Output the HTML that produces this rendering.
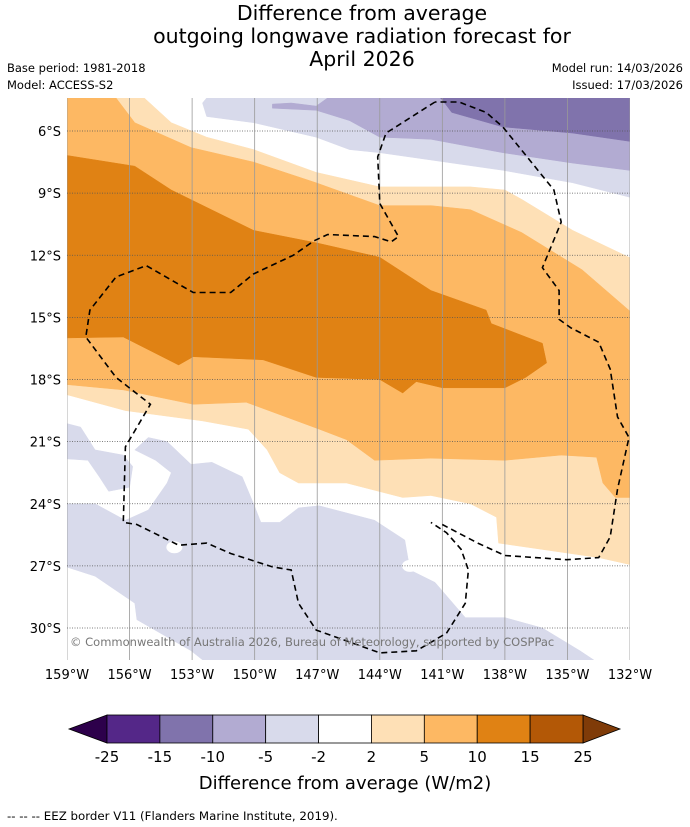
<!DOCTYPE html>
<html><head><meta charset="utf-8">
<style>
body{margin:0;background:#fff;width:690px;height:827px;overflow:hidden;font-family:"DejaVu Sans","Liberation Sans",sans-serif;}
svg{display:block}
</style></head>
<body>
<svg id="chart" width="690" height="827" viewBox="0 0 690 827">
  <g font-size="20.5" text-anchor="middle" fill="#000">
    <text x="362" y="20">Difference from average</text>
    <text x="362" y="43">outgoing longwave radiation forecast for</text>
    <text x="362" y="66">April 2026</text>
  </g>
  <text x="7" y="72" font-size="11.5">Base period: 1981-2018</text>
  <text x="7" y="89" font-size="11.5">Model: ACCESS-S2</text>
  <text x="683" y="72" font-size="11.5" text-anchor="end">Model run: 14/03/2026</text>
  <text x="683" y="89" font-size="11.5" text-anchor="end">Issued: 17/03/2026</text>
  <defs><clipPath id="mapclip"><rect x="67" y="98" width="563" height="562"/></clipPath></defs>
  <g id="map" clip-path="url(#mapclip)"></g>
  <g id="axes"></g>
  <text x="70" y="646" font-size="11.5" fill="#777">© Commonwealth of Australia 2026, Bureau of Meteorology, supported by COSPPac</text>
  <g id="cbar"></g>
  <text x="345" y="789" font-size="18" text-anchor="middle">Difference from average (W/m2)</text>
  <text x="7" y="820" font-size="11.8">--  --  -- EEZ border V11 (Flanders Marine Institute, 2019).</text>
</svg>
<script>
// axis data (degrees W / degrees S)
const lonTicks = [159,156,153,150,147,144,141,138,135,132];
const latTicks = [6,9,12,15,18,21,24,27,30];
const cbarBounds = [-25,-15,-10,-5,-2,2,5,10,15,25];
const cbarColors = ["#542788","#8073ac","#b2abd2","#d8daeb","#ffffff","#fee0b6","#fdb863","#e08214","#b35806"];
// contour regions [lonW, latS]
const pale2 = [[156.65,4.4],[155.3,4.4],[154.0,5.6],[152.3,6.3],[150.05,6.9],[147.05,8],[144.0,8.7],[139.65,8.7],[138.0,8.85],[137.2,9.3],[134.75,10.8],[132.05,12.1],[131.5,12.2],[131.5,27.05],[133.5,26.6],[138.3,25.9],[138.4,24.65],[139.65,24],[141.55,23.6],[142.9,23.7],[145.6,23],[147.9,23],[148.8,22.5],[149.4,21.4],[150.3,20.4],[152.5,20],[156.2,19.5],[159.5,18.6],[159.5,4.4]];
const orange5 = [[159.5,4.4],[156.65,4.4],[155.75,5.6],[153.05,6.8],[150.05,7.5],[147.05,8.5],[144.0,9.6],[141.55,9.6],[139.65,9.8],[137.2,10.9],[134.3,12.7],[132.0,14.7],[131.5,14.9],[131.5,23.7],[132.7,23.7],[133.3,23],[133.6,21.75],[135.3,21.65],[138.0,21.9],[141.55,21.8],[144.25,21.9],[145.6,20.9],[146.9,20.4],[150.4,19.1],[152.95,19.2],[156.3,18.5],[159.5,18.2]];
const orange10 = [[159.5,7.1],[155.75,7.7],[154.0,8.85],[150.05,10.8],[147.05,11.4],[144.0,12.1],[141.55,13.7],[138.9,14.65],[138.65,15.3],[136.2,16.25],[136.0,17.2],[137.0,17.9],[138.0,18.4],[141.0,18.4],[142.25,18.1],[142.9,18.65],[144.0,18],[147.05,17.9],[149.6,17.05],[152.95,16.9],[153.65,17.3],[156.3,15.95],[159.5,16]];
const purple2Top = [[152.5,4.65],[152.3,4.4],[131.5,4.4],[131.5,9.3],[132.0,9.2],[134.75,8.5],[138.1,7.9],[141.55,7.4],[144.0,7.05],[145.45,6.9],[147.05,6.3],[150.05,5.6],[152.3,5.3]];
const purple5 = [[149.15,4.7],[148.25,4.65],[147.05,4.8],[146.5,4.4],[131.5,4.4],[131.5,8],[132.05,7.9],[134.75,7.55],[138.1,7.05],[141.55,6.4],[144.0,6.3],[145.45,5.5],[147.05,5.0],[149.15,4.9]];
const purple10 = [[141.1,4.4],[131.5,4.4],[131.5,6.5],[132.0,6.5],[134.75,6.1],[138.1,5.8],[140.55,5.1],[141.0,4.5]];
const purple2A = [[159.5,20],[158.35,20.3],[157.65,21.4],[156.3,21.65],[155.85,22.2],[156.0,23.2],[157.0,23.4],[157.45,22.7],[158.0,21.9],[159.5,21.8]];
const purple2B = [[159.5,24],[157.65,24],[156.2,24.8],[155.1,24.3],[154.2,23],[154.0,22.5],[154.75,21.9],[155.75,21.4],[155.1,20.8],[154.2,21],[153.05,22.1],[152.05,22],[150.6,22.7],[150.05,24],[149.7,24.9],[148.8,24.9],[147.9,24.2],[146.9,24.1],[144.25,24.8],[142.8,25.75],[142.55,27.2],[141.35,27.8],[139.9,29.5],[138.0,29.5],[136.2,30],[134.4,31.1],[133.5,31.7],[152.3,31.7],[153.05,31.1],[155.65,29.6],[155.75,28.8],[157.65,27.5],[159.5,26.9]];
const eez1 = [[141.35,4.6],[143.7,6.1],[144.1,7.25],[144.0,9.5],[143.1,11.1],[143.45,11.35],[144.25,11.1],[146.5,11],[147.15,11.3],[148.15,12],[150.05,12.9],[151.15,13.8],[152.95,13.8],[155.2,12.5],[156.65,13.05],[157.9,14.65],[158.1,15.95],[156.65,17.9],[155.0,19.2],[156.2,21.25],[156.3,24.9],[155.65,25],[153.65,26],[152.3,25.9],[151.15,26.4],[149.15,27.05],[148.25,27.2],[147.9,28.8],[147.05,30.1],[144.0,31.2],[142.25,31.1],[140.8,30.25],[139.9,28.8],[139.75,27.2],[140.1,26.2],[140.8,25.4],[141.55,24.9]];
const eez2 = [[141.0,25],[139.3,25.9],[138.0,26.5],[135.05,26.7],[133.5,26.6],[132.95,25.6],[132.6,23.3],[132.05,20.8],[132.6,19.8],[132.95,17.5],[133.5,16.2],[134.85,15.5],[135.4,15.1],[135.4,13.7],[136.2,12.6],[135.3,10.4],[135.65,8.85],[138.1,5.8],[138.9,5.1],[140.2,4.6],[141.35,4.6]];
const whiteHoles = [[153.85,26.1],[142.55,27.0]];

const NS = "http://www.w3.org/2000/svg";
const X0=67, X1=630, Y6=131, Y30=628;
function xs(lonW){ return X0 + (159-lonW)*(X1-X0)/27; }
function ys(latS){ return Y6 + (latS-6)*(Y30-Y6)/24; }
function mk(tag, attrs, parent){ const e=document.createElementNS(NS,tag); for(const k in attrs) e.setAttribute(k,attrs[k]); parent.appendChild(e); return e; }
function pts(arr){ return arr.map(p=>xs(p[0]).toFixed(1)+","+ys(p[1]).toFixed(1)).join(" "); }

const map = document.getElementById("map");
const fills = [[pale2,"#fee0b6","contour-2-to-5"],[orange5,"#fdb863","contour-5-to-10"],[orange10,"#e08214","contour-10-to-15"],
  [purple2Top,"#d8daeb","contour-minus2-north"],[purple5,"#b2abd2","contour-minus5"],[purple10,"#8073ac","contour-minus10"],
  [purple2A,"#d8daeb","contour-minus2-west"],[purple2B,"#d8daeb","contour-minus2-south"]];
fills.forEach(f=>{
  const p = mk("polygon",{points:pts(f[0]),fill:f[1],stroke:f[1],"stroke-width":"0.5"},map);
  
  
});
whiteHoles.forEach(h=>{
  const c = mk("ellipse",{cx:xs(h[0]),cy:ys(h[1]),rx:8,ry:6,fill:"#fff"},map);
  
  
});
const axes = document.getElementById("axes");
lonTicks.forEach(l=>{
  const ln = mk("line",{x1:xs(l),x2:xs(l),y1:98,y2:660,stroke:"#999","stroke-width":"0.8"},map);
  
  
  const t = mk("text",{x:xs(l),y:679,"font-size":"13","text-anchor":"middle"},axes);
  t.textContent = l+"°W";
  
  
});
latTicks.forEach(l=>{
  const ln = mk("line",{x1:67,x2:630,y1:ys(l),y2:ys(l),stroke:"#555","stroke-width":"0.8","stroke-dasharray":"1,1.5"},map);
  
  
  const t = mk("text",{x:61,y:ys(l)+5,"font-size":"13","text-anchor":"end"},axes);
  t.textContent = l+"°S";
  
  
});
[eez1,eez2].forEach(e=>{
  const pl = mk("polyline",{points:pts(e),fill:"none",stroke:"#000","stroke-width":"1.6","stroke-dasharray":"6,4"},map);
  
  
});

// colorbar
const cb = document.getElementById("cbar");
const CB0=107, CB1=583, CBy=715, CBh=28, n=cbarColors.length;
const bw=(CB1-CB0)/n;
const lt = mk("polygon",{points:`${CB0},${CBy} 69,${CBy+CBh/2} ${CB0},${CBy+CBh}`,fill:"#2d004b",stroke:"#000","stroke-width":"0.8"},cb);


const rt = mk("polygon",{points:`${CB1},${CBy} 620,${CBy+CBh/2} ${CB1},${CBy+CBh}`,fill:"#7f3b08",stroke:"#000","stroke-width":"0.8"},cb);


cbarColors.forEach((c,i)=>{
  const r = mk("rect",{x:CB0+i*bw,y:CBy,width:bw,height:CBh,fill:c,stroke:"#000","stroke-width":"0.8"},cb);
  
  
});
cbarBounds.forEach((v,i)=>{
  const t = mk("text",{x:CB0+i*bw,y:762,"font-size":"15","text-anchor":"middle"},cb);
  t.textContent = v;
  
  
});
</script>
</body></html>
